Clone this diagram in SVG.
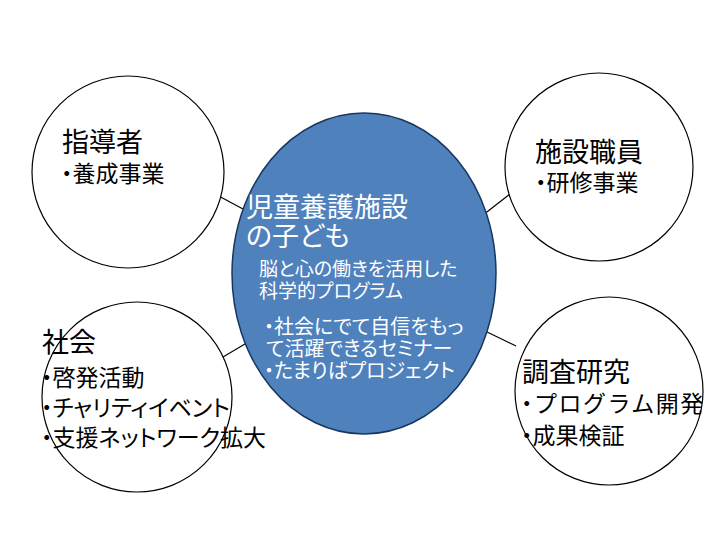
<svg xmlns="http://www.w3.org/2000/svg" width="720" height="540" viewBox="0 0 720 540">
<style>
text{font-family:"Noto Sans CJK JP","Noto Sans CJK SC",sans-serif;font-feature-settings:"palt" 1;fill:#000}
.t{font-size:27px}
.b{font-size:23px}
.w{fill:#fff}
.s{font-size:19px}
.s2{font-size:20px}
.np{font-feature-settings:normal}
.c{fill:#fff;stroke:#000;stroke-width:1.2}
.ln{stroke:#000;stroke-width:1.2;fill:none}
</style>
<rect width="720" height="540" fill="#fff"/>
<g id="connectors">
<line class="ln" x1="215" y1="194" x2="243" y2="209"/>
<line class="ln" x1="483" y1="215" x2="510" y2="194"/>
<line class="ln" x1="223" y1="357" x2="250" y2="341"/>
<line class="ln" x1="483" y1="330" x2="516" y2="346"/>
</g>
<g id="node-shidosha">
<circle class="c" cx="128" cy="172" r="96"/>
<text class="t" x="62" y="152">指導者</text>
<text class="b" x="61" y="182">・養成事業</text>
</g>
<g id="node-shisetsu">
<circle class="c" cx="599" cy="167" r="94"/>
<text class="t" x="535" y="162">施設職員</text>
<text class="b" x="535" y="191">・研修事業</text>
</g>
<g id="node-shakai">
<circle class="c" cx="137" cy="397" r="95"/>
<text class="t" x="42" y="352">社会</text>
<text class="b" x="41" y="386">・啓発活動</text>
<text class="b" x="41" y="416">・チャリティイベント</text>
<text class="b" x="41" y="446">・支援ネットワーク拡大</text>
</g>
<g id="node-chosa">
<circle class="c" cx="609" cy="391" r="94"/>
<text class="t" x="522" y="382">調査研究</text>
<text class="b" x="521" y="412" letter-spacing="1.5">・<tspan class="np">プログラム</tspan>開発</text>
<text class="b" x="521" y="444">・成果検証</text>
</g>
<g id="node-center">
<ellipse cx="364" cy="273.5" rx="132" ry="160.5" fill="#4f81bd" stroke="#17375e" stroke-width="1.5"/>
<text class="t w" x="246" y="217">児童養護施設</text>
<text class="t w" x="246" y="246">の子ども</text>
<text class="s w" x="259" y="276">脳と心の働きを活用した</text>
<text class="s w" x="259" y="298">科学的プログラム</text>
<text class="s2 w" x="264" y="334">・社会にでて自信をもっ</text>
<text class="s2 w" x="266" y="356">て活躍できるセミナー</text>
<text class="s2 w" x="264" y="378">・たまりばプロジェクト</text>
</g>
</svg>
